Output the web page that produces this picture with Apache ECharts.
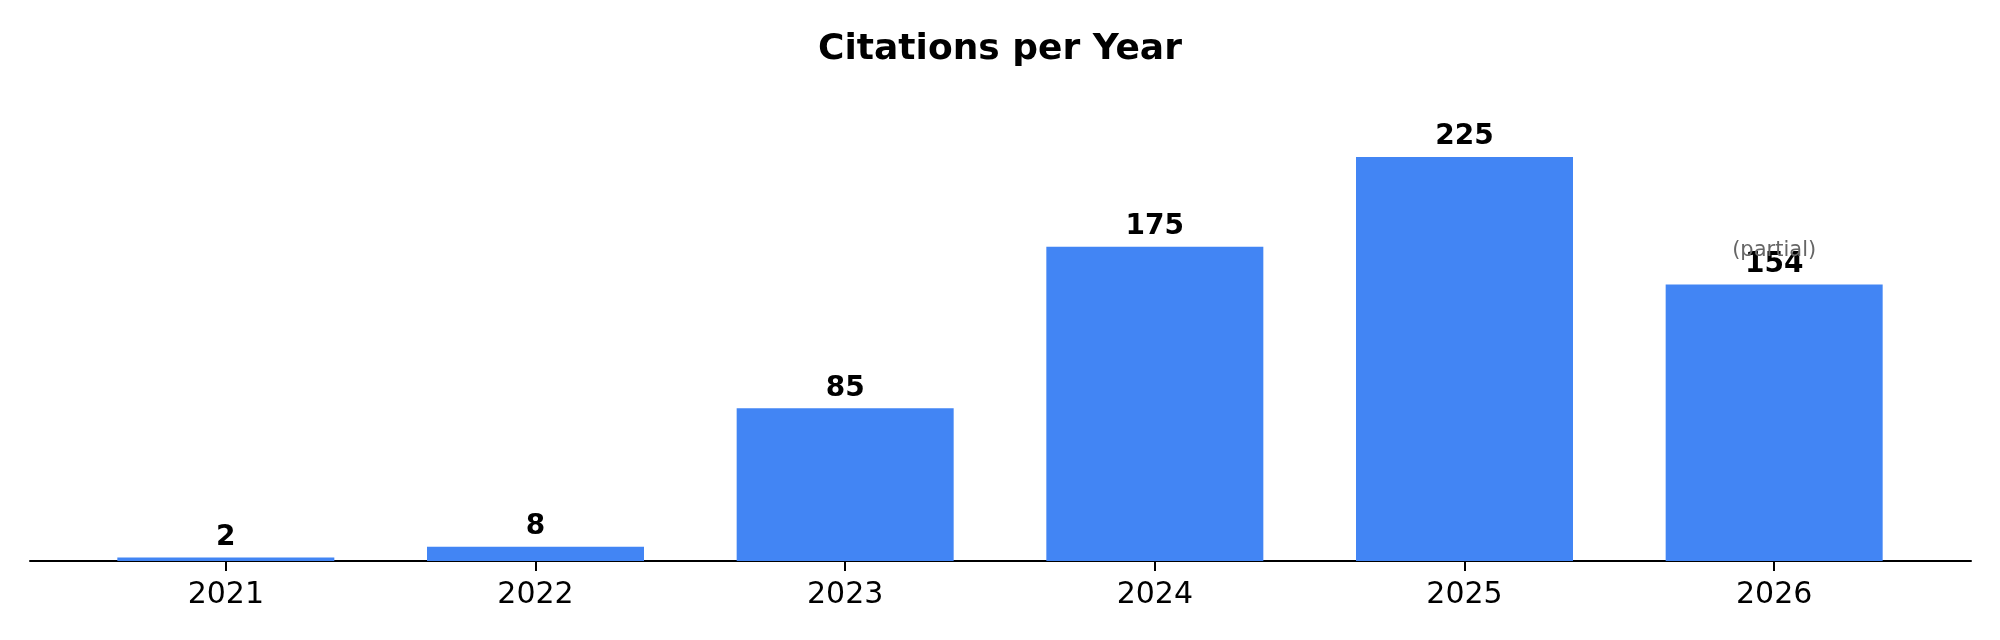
<!DOCTYPE html>
<html>
<head>
<meta charset="utf-8">
<script src="https://cdn.jsdelivr.net/npm/echarts@6/dist/echarts.min.js"></script>
<style>
  html, body { margin: 0; padding: 0; background: #fff; }
  #chart { width: 2000px; height: 640px; }
</style>
</head>
<body>
<div id="chart"></div>
<script>
// data
var years = ['2021', '2022', '2023', '2024', '2025', '2026'];
var citations = [2, 8, 85, 175, 225, 154];
var partial = [false, false, false, false, false, true];

var myChart = echarts.init(document.getElementById('chart'));

var font = 'DejaVu Sans';

var option = {
    animation: false,
    title: {
        text: 'Citations per Year',
        left: 'center',
        top: 27,
        textStyle: {
            fontFamily: font,
            fontSize: 36,
            fontWeight: 'bold',
            color: '#000'
        }
    },
    grid: [{
        // the bars
        left: 71,
        right: 71,
        top: 112,
        bottom: 79
    }, {
        // only here for the long bottom line
        left: 30,
        right: 29,
        top: 112,
        bottom: 79
    }],
    xAxis: [{
        type: 'category',
        gridIndex: 0,
        data: years,
        axisLine: { show: true, lineStyle: { color: '#000', width: 2 } },
        axisTick: {
            show: true,
            alignWithLabel: true,
            length: 10,
            lineStyle: { color: '#000', width: 2 }
        },
        axisLabel: {
            margin: 19,
            fontFamily: font,
            fontSize: 30,
            color: '#000'
        }
    }, {
        type: 'value',
        gridIndex: 1,
        axisLine: { show: true, onZero: false, lineStyle: { color: '#000', width: 2 } },
        axisTick: { show: false },
        axisLabel: { show: false },
        splitLine: { show: false }
    }],
    yAxis: [{
        type: 'value',
        gridIndex: 0,
        min: 0,
        max: 250,
        show: false
    }, {
        type: 'value',
        gridIndex: 1,
        show: false
    }],
    series: [{
        name: 'Citations',
        type: 'bar',
        xAxisIndex: 0,
        yAxisIndex: 0,
        data: citations,
        barWidth: 217,
        itemStyle: { color: '#4285F4' },
        label: {
            show: true,
            position: 'top',
            distance: 6,
            fontFamily: font,
            fontSize: 28,
            fontWeight: 'bold',
            color: '#000'
        }
    }, {
        // invisible copy, only carries the "(partial)" note
        name: 'note',
        type: 'bar',
        xAxisIndex: 0,
        yAxisIndex: 0,
        silent: true,
        barGap: '-100%',
        barWidth: 217,
        data: citations.map(function(v, i) { return partial[i] ? v : null; }),
        itemStyle: { color: 'rgba(0,0,0,0)' },
        label: {
            show: true,
            position: 'top',
            distance: 23,
            formatter: '(partial)',
            fontFamily: font,
            fontSize: 21,
            color: '#666'
        }
    }]
};

myChart.setOption(option);
</script>
</body>
</html>
